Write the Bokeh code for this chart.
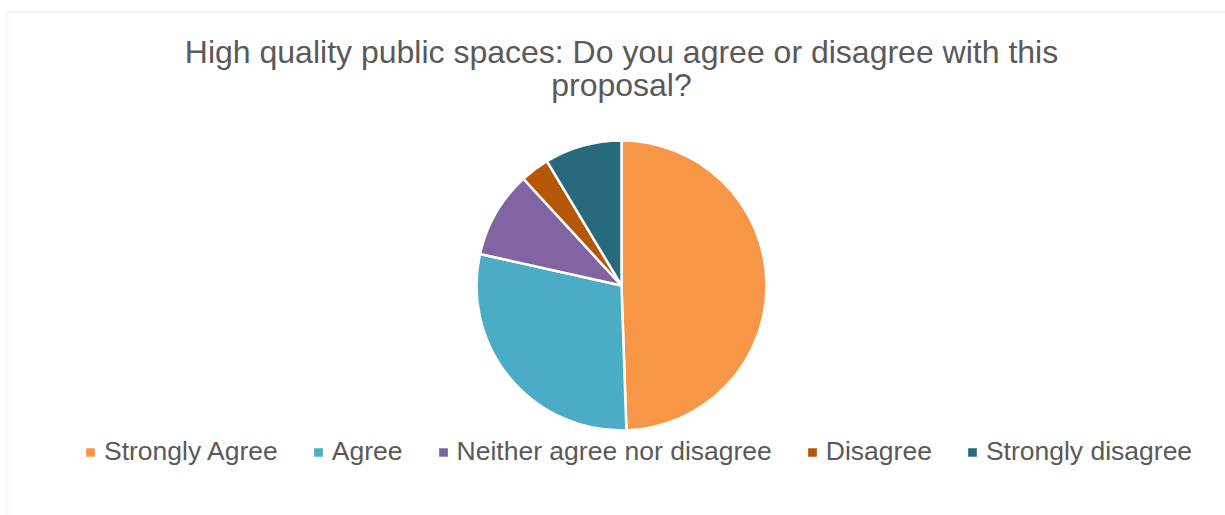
import numpy as np
from bokeh.plotting import figure
from bokeh.models import Range1d, Label, Legend, LegendItem, ColumnDataSource, BoxAnnotation
from bokeh.embed import file_html
from bokeh.resources import INLINE

# ---- data ----
categories = ["Strongly Agree", "Agree", "Neither agree nor disagree", "Disagree", "Strongly disagree"]
counts = [46, 27, 9, 3, 8]
colors = ["#F79646", "#4BACC6", "#8064A2", "#B65708", "#276A7C"]
title_lines = ["High quality public spaces: Do you agree or disagree with this", "proposal?"]

W, H = 1225, 515
FONT = "Liberation Sans"
TEXT_COLOR = "#595959"

p = figure(width=W, height=H, x_range=Range1d(0, W), y_range=Range1d(0, H),
           output_backend="svg", toolbar_location=None, min_border=0,
           x_axis_type=None, y_axis_type=None, outline_line_color=None,
           background_fill_color="white", border_fill_color="white")
p.grid.visible = False

# chart-area border
p.add_layout(BoxAnnotation(left=7, right=W + 50, bottom=-50, top=H - 11.5,
                           fill_alpha=0, line_color="#D9D9D9", line_width=2))

# pie slices
frac = np.array(counts, dtype=float) / sum(counts)
cum = np.concatenate([[0.0], np.cumsum(frac)])
start = np.pi / 2 - 2 * np.pi * cum[:-1]
end = np.pi / 2 - 2 * np.pi * cum[1:]
src = ColumnDataSource(dict(cat=categories, count=counts, start=start, end=end, color=colors))
r = p.wedge(x=621, y=H - 285, radius=145, start_angle="start", end_angle="end",
            direction="clock", fill_color="color", line_color="white", line_width=2.5,
            source=src)

# title
p.add_layout(Label(x=621, y=H - 51, text=title_lines[0], text_align="center",
                   text_baseline="alphabetic", text_font=FONT, text_font_size="32px",
                   text_color=TEXT_COLOR))
p.add_layout(Label(x=621, y=H - 84, text=title_lines[1], text_align="center",
                   text_baseline="alphabetic", text_font=FONT, text_font_size="32px",
                   text_color=TEXT_COLOR))

# legend
items = [LegendItem(label=c, renderers=[r], index=i) for i, c in enumerate(categories)]
legend = Legend(items=items, orientation="horizontal", location=(83, 48), padding=0, margin=0,
                spacing=33, label_standoff=7, glyph_width=14, glyph_height=14,
                label_text_font=FONT, label_text_font_size="26.5px", label_text_color=TEXT_COLOR,
                border_line_color=None, background_fill_alpha=0)
p.add_layout(legend)

open("out.html", "w").write(file_html(p, INLINE))
